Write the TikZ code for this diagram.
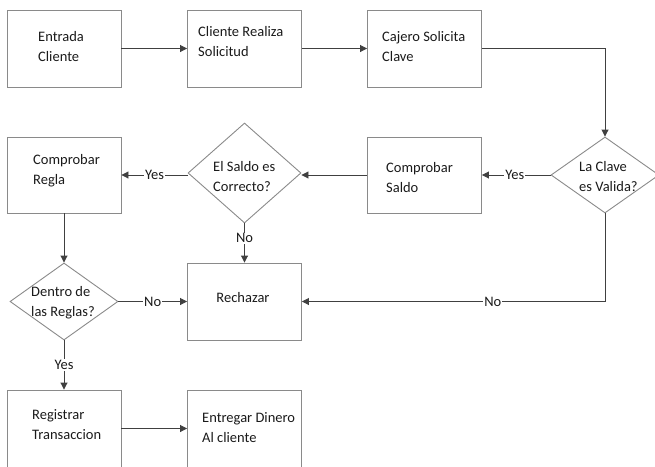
\documentclass[tikz,border=0pt]{standalone}
\usepackage{fontspec}
\setmainfont{Carlito}
\usetikzlibrary{arrows.meta,shapes.geometric}

\definecolor{boxline}{HTML}{8A8A8A}
\definecolor{wire}{HTML}{404040}
\definecolor{ink}{HTML}{1A1A1A}

\begin{document}
\begin{tikzpicture}[x=1pt,y=-1pt,
  every node/.style={font=\fontsize{14.5}{20}\selectfont, text=ink},
  procbox/.style={draw=boxline, line width=0.9pt, rectangle, minimum width=114pt, minimum height=77pt, inner sep=0pt},
  decision/.style={draw=boxline, line width=0.9pt, diamond, inner sep=0pt},
  boxtext/.style={align=left, anchor=west, inner sep=0pt},
  flow/.style={draw=wire, line width=0.9pt, -{Triangle[length=7pt,width=7pt]}},
  wirelabel/.style={fill=white, inner sep=1pt}]

  % page frame and clipping
  \useasboundingbox (0,0) rectangle (655,466);
  \clip (0,0) rectangle (655,466);

  % process boxes
  \node[procbox] (entrada)   at (64,48.5)   {};
  \node[procbox] (solicitud) at (244.5,48.5) {};
  \node[procbox] (cajero)    at (424.5,48.5) {};
  \node[procbox, minimum height=76pt] (saldo) at (424.5,175) {};
  \node[procbox, minimum height=76pt] (regla) at (64,175)   {};
  \node[procbox] (rechazar)  at (244.5,301.5) {};
  \node[procbox] (registrar) at (64,428.5)  {};
  \node[procbox] (entregar)  at (244.5,428.5) {};

  % decisions
  \node[decision, minimum width=108pt, minimum height=76pt]  (clave)  at (605,175)   {};
  \node[decision, minimum width=113pt, minimum height=100pt] (essaldo) at (244.5,173) {};
  \node[decision, minimum width=108pt, minimum height=77pt]  (dentro) at (64,301.5)  {};

  % box texts
  \node[boxtext] (t-entrada)   at (38,47)    {Entrada\\Cliente};
  \node[boxtext] (t-solicitud) at (198,42)   {Cliente Realiza\\Solicitud};
  \node[boxtext] (t-cajero)    at (382,47)   {Cajero Solicita\\Clave};
  \node[boxtext] (t-clave)     at (579,177)  {La Clave\\es Valida?};
  \node[boxtext] (t-saldo)     at (386,177.5){Comprobar\\Saldo};
  \node[boxtext] (t-essaldo)   at (213,177)  {El Saldo es\\Correcto?};
  \node[boxtext] (t-regla)     at (33,171)   {Comprobar\\Regla};
  \node[boxtext] (t-dentro)    at (31,303)   {Dentro de\\las Reglas?};
  \node[inner sep=0pt] (t-rechazar) at (243,298) {Rechazar};
  \node[boxtext] (t-registrar) at (32,425)   {Registrar\\Transaccion};
  \node[boxtext] (t-entregar)  at (202,428)  {Entregar Dinero\\Al cliente};

  % helper corners
  \coordinate (c1) at (clave.north |- cajero.east);
  \coordinate (c2) at (clave.south |- rechazar.east);

  % connectors
  \draw[flow] (entrada.east) -- (solicitud.west);
  \draw[flow] (solicitud.east) -- (cajero.west);
  \draw[flow] (cajero.east) -- (c1) -- (clave.north);
  \draw[flow] (clave.west) -- node[wirelabel, pos=0.52] (y1) {Yes} (saldo.east);
  \draw[flow] (saldo.west) -- (saldo.west -| essaldo.east);
  \draw[flow] (essaldo.west |- regla.east) -- node[wirelabel, pos=0.5] (y2) {Yes} (regla.east);
  \draw[flow] (essaldo.south) -- node[wirelabel, pos=0.38] (n1) {No} (rechazar.north);
  \draw[flow] (regla.south) -- (dentro.north);
  \draw[flow] (dentro.east) -- node[wirelabel, pos=0.5] (n2) {No} (rechazar.west);
  \draw[flow] (clave.south) -- (c2) -- node[wirelabel, pos=0.37] (n3) {No} (rechazar.east);
  \draw[flow] (dentro.south) -- node[wirelabel, pos=0.5] (y3) {Yes} (registrar.north);
  \draw[flow] (registrar.east) -- (entregar.west);
\end{tikzpicture}
\end{document}
